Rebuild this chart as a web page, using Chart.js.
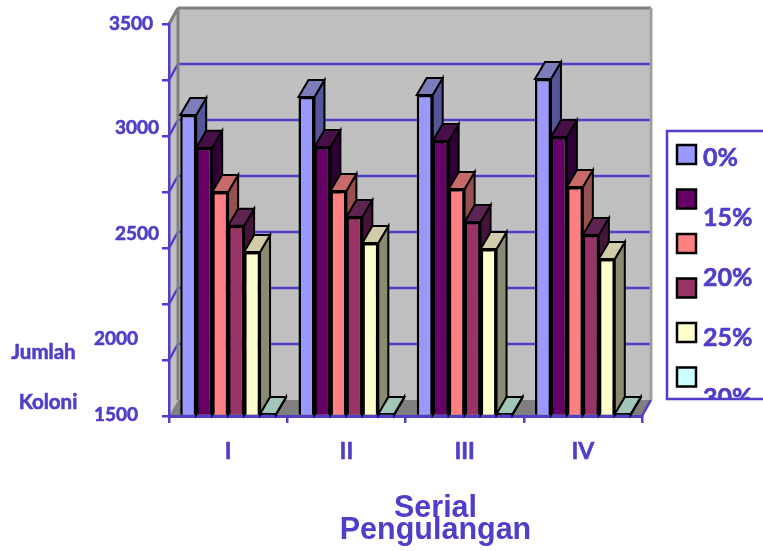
<!doctype html>
<html>
    <head>
        <script src="https://cdn.jsdelivr.net/npm/chart.js"></script>
        <style>
            body {
                margin: 0px;
                background-color: white;
            }
        </style>
    </head>
    <body>
        <canvas id="myChart" width="763" height="551"></canvas>

        <script>
        const categories = ['I', 'II', 'III', 'IV'];
        const series0 = [3036, 3128, 3138, 3219];
        const series15 = [2869, 2872, 2903, 2923];
        const series20 = [2643, 2648, 2658, 2668];
        const series20b = [2471, 2515, 2490, 2423];
        const series25 = [2337, 2383, 2352, 2301];
        const series30 = [1510, 1510, 1510, 1510];
        const seriesNames = ['0%', '15%', '20%', '20% b', '25%', '30%'];
        const seriesValues = [series0, series15, series20, series20b, series25, series30];
        const legendLabels = ['0%', '15%', '20%', '25%', '30%'];
        const tickLabels = ['3500', '3000', '2500', '2000', '1500'];

        const BLUE = '#4f3fc8';
        const front = ['#9999FF', '#660066', '#FF8080', '#993366', '#FFFFCC', '#CCFFFF'];
        const side = ['#55559a', '#2e0036', '#96504f', '#45143a', '#8a8a70', '#7a9a9a'];
        const top3d = ['#7d7dbb', '#470f47', '#c96a6a', '#5e2350', '#d2cda8', '#a2c6b8'];

        // the picture's labels do not sit on the ticks, so they are placed by hand
        const tickLabelPos = [[131, 24], [137, 128], [137, 234], [116, 339], [116, 415]];
        const legendTextY = [157.5, 217.5, 278, 337.5, 397.5];
        const wallDx = 9, wallDy = -16;
        const barDx = 10, barDy = -17;

        function poly(ctx, pts, fill, stroke, lw) {
            ctx.beginPath();
            pts.forEach((p, i) => i ? ctx.lineTo(p[0], p[1]) : ctx.moveTo(p[0], p[1]));
            ctx.closePath();
            if (fill) { ctx.fillStyle = fill; ctx.fill(); }
            if (stroke) { ctx.strokeStyle = stroke; ctx.lineWidth = lw; ctx.stroke(); }
        }

        function seg(ctx, x1, y1, x2, y2, color, lw) {
            ctx.beginPath();
            ctx.moveTo(x1, y1);
            ctx.lineTo(x2, y2);
            ctx.strokeStyle = color;
            ctx.lineWidth = lw;
            ctx.stroke();
        }

        // Lato bold is a bit lighter than the picture, a thin outline evens it out
        function heavyText(ctx, s, x, y) {
            ctx.fillText(s, x, y);
            ctx.strokeText(s, x, y);
        }

        const box3d = {
            id: 'box3d',
            beforeDraw(chart) {
                const ctx = chart.ctx, a = chart.chartArea;
                const l = a.left, r = a.right, t = a.top, b = a.bottom;
                ctx.save();
                // back wall, left wall, floor
                poly(ctx, [[l + wallDx, t + wallDy], [r + wallDx, t + wallDy], [r + wallDx, b + wallDy], [l + wallDx, b + wallDy]], '#C0C0C0');
                poly(ctx, [[l, t], [l + wallDx, t + wallDy], [l + wallDx, b + wallDy], [l, b]], '#C0C0C0');
                poly(ctx, [[l, b], [l + wallDx, b + wallDy], [r + wallDx, b + wallDy], [r, b]], '#808080');
                // grid lines run along the wall and step down the left side
                chart.scales.y.ticks.forEach((tk) => {
                    const y = chart.scales.y.getPixelForValue(tk.value);
                    if (tk.value > 1501 && tk.value < 3499) seg(ctx, l + wallDx, y + wallDy, r + wallDx, y + wallDy, BLUE, 2.5);
                    if (tk.value > 1501) seg(ctx, l, y, l + wallDx, y + wallDy, BLUE, 2.5);
                });
                // wall edges
                seg(ctx, l + wallDx, t + wallDy, r + wallDx, t + wallDy, '#808080', 3);
                seg(ctx, l + wallDx, t + wallDy, l + wallDx, b + wallDy, '#808080', 3);
                seg(ctx, r + wallDx, t + wallDy, r + wallDx, b + wallDy, '#a0a0a0', 3);
                seg(ctx, l, t, l + wallDx, t + wallDy, '#808080', 3);
                seg(ctx, r, b, r + wallDx, b + wallDy, BLUE, 2.5);
                ctx.restore();
            },
            // all side and top faces go down first, left to right, the fronts then cover them
            beforeDatasetsDraw(chart) {
                const ctx = chart.ctx;
                ctx.save();
                seriesValues.forEach((values, i) => {
                    chart.getDatasetMeta(i).data.forEach((el) => {
                        const x0 = el.x - el.width / 2, x1 = el.x + el.width / 2;
                        poly(ctx, [[x1, el.y], [x1 + barDx, el.y + barDy], [x1 + barDx, el.base + barDy], [x1, el.base]], side[i], '#000', 2);
                        poly(ctx, [[x0, el.y], [x0 + barDx, el.y + barDy], [x1 + barDx, el.y + barDy], [x1, el.y]], top3d[i], '#000', 2);
                    });
                });
                ctx.restore();
            },
            afterDraw(chart) {
                const ctx = chart.ctx;
                ctx.save();
                ctx.fillStyle = BLUE;
                ctx.strokeStyle = BLUE;
                ctx.lineWidth = 0.6;
                ctx.textBaseline = 'middle';

                // y labels
                ctx.textAlign = 'center';
                ctx.font = 'bold 19px Lato';
                tickLabels.forEach((s, i) => heavyText(ctx, s, tickLabelPos[i][0], tickLabelPos[i][1]));

                // side titles
                ctx.font = 'bold 20.5px Lato';
                heavyText(ctx, 'Jumlah', 43.5, 352);
                heavyText(ctx, 'Koloni', 48, 402);

                // bottom title
                ctx.font = 'bold 30.5px "Liberation Sans"';
                ctx.fillText('Serial', 435.5, 509);
                ctx.fillText('Pengulangan', 435.5, 531);

                // legend box, runs off the right edge and clips its last label
                ctx.lineWidth = 2.5;
                ctx.strokeRect(667, 131, 110, 268);
                front.forEach((c, i) => {
                    const sy = 145 + i * 44.5;
                    ctx.fillStyle = c;
                    ctx.fillRect(677, sy, 19, 19);
                    ctx.strokeStyle = '#000';
                    ctx.lineWidth = 2.5;
                    ctx.strokeRect(677, sy, 19, 19);
                });
                ctx.beginPath();
                ctx.rect(668, 132, 95, 266);
                ctx.clip();
                ctx.fillStyle = BLUE;
                ctx.strokeStyle = BLUE;
                ctx.lineWidth = 0.6;
                ctx.textAlign = 'left';
                ctx.font = 'bold 25px Lato';
                legendLabels.forEach((s, i) => heavyText(ctx, s, 703, legendTextY[i]));
                ctx.restore();
            }
        };

        new Chart(document.getElementById('myChart'), {
            type: 'bar',
            data: {
                labels: categories,
                datasets: seriesValues.map((values, i) => ({
                    label: seriesNames[i],
                    data: values,
                    base: 1500,
                    backgroundColor: front[i],
                    borderColor: '#000',
                    borderWidth: 2.5,
                    categoryPercentage: 0.81,
                    barPercentage: 1
                }))
            },
            options: {
                responsive: false,
                animation: false,
                devicePixelRatio: 1,
                layout: { padding: { left: 169, right: 121, top: 24, bottom: 75 } },
                plugins: { legend: { display: false }, tooltip: { enabled: false } },
                scales: {
                    x: {
                        afterFit(s) { s.height = 60; },
                        grid: { drawOnChartArea: false, color: BLUE, lineWidth: 2.5, tickLength: 7 },
                        border: { color: BLUE, width: 3 },
                        ticks: { color: BLUE, padding: 15, maxRotation: 0, textStrokeColor: BLUE, textStrokeWidth: 0.6, font: { family: 'Lato', weight: 'bold', size: 23 } }
                    },
                    y: {
                        min: 1500,
                        max: 3500,
                        afterFit(s) { s.width = 0; },
                        grid: { drawOnChartArea: false, color: BLUE, lineWidth: 2.5, tickLength: 7 },
                        border: { color: BLUE, width: 2.5 },
                        ticks: { display: false, count: 8 }
                    }
                }
            },
            plugins: [box3d]
        });
        </script>
    </body>
</html>
